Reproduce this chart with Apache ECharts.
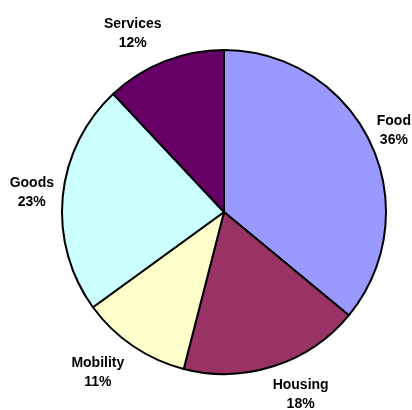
<!DOCTYPE html>
<html>
<head>
<meta charset="utf-8">
<script src="https://cdn.jsdelivr.net/npm/echarts@6/dist/echarts.min.js"></script>
<style>
  html, body { margin: 0; padding: 0; background: #fff; }
  #chart { width: 412px; height: 410px; }
</style>
</head>
<body>
<div id="chart"></div>
<script>
// categories and values (clockwise from 12 o'clock)
const categories = ['Food', 'Housing', 'Mobility', 'Goods', 'Services']
const values = [36, 18, 11, 23, 12]
const colors = ['#9999ff', '#993366', '#ffffcc', '#ccffff', '#660066']
// label nudges to mimic the original placement
const labelShift = [[2, -5], [16, 11], [-20, 12], [-8, -2], [-20, -11]]

const chart = echarts.init(document.getElementById('chart'))

const option = {
  animation: false,
  backgroundColor: '#ffffff',
  series: [
    {
      type: 'pie',
      center: [224, 212],
      radius: 162,
      startAngle: 90,
      clockwise: true,
      data: categories.map((name, i) => ({
        name: name,
        value: values[i],
        itemStyle: { color: colors[i] }
      })),
      itemStyle: {
        borderColor: '#000',
        borderWidth: 2
      },
      label: {
        show: true,
        position: 'outside',
        overflow: 'none',
        formatter: (p) => p.name + '\n' + p.value + '%',
        fontFamily: 'Liberation Sans, Arial, sans-serif',
        fontWeight: 'bold',
        fontSize: 14,
        lineHeight: 19,
        color: '#000'
      },
      labelLine: { show: false, length: 18, length2: 0 },
      labelLayout: (p) => ({
        dx: labelShift[p.dataIndex][0],
        dy: labelShift[p.dataIndex][1],
        align: 'center'
      }),
      emphasis: { disabled: true }
    }
  ]
}

chart.setOption(option)
</script>
</body>
</html>
